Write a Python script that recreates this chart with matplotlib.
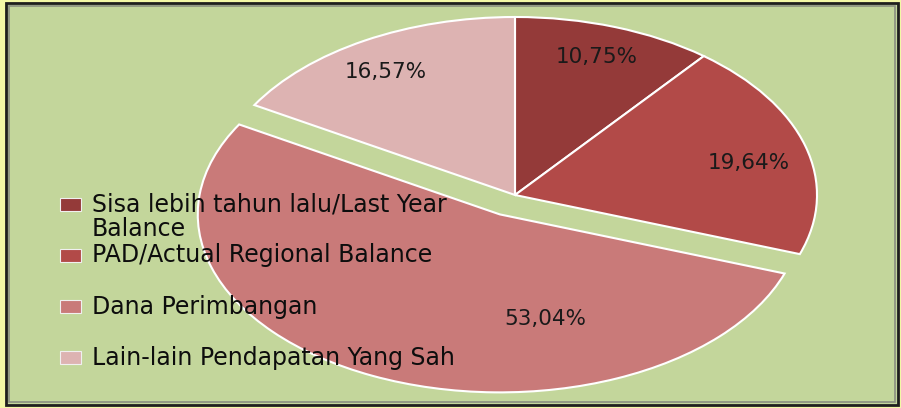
import matplotlib.pyplot as plt
from matplotlib.patches import Rectangle

labels = ["Sisa lebih tahun lalu/Last Year\nBalance",
          "PAD/Actual Regional Balance",
          "Dana Perimbangan",
          "Lain-lain Pendapatan Yang Sah"]
shares = [10.75, 19.64, 53.04, 16.57]
pct_text = ["10,75%", "19,64%", "53,04%", "16,57%"]
colors = ["#943a39", "#b24a48", "#c97a79", "#ddb3b2"]
explode = [0, 0, 0.12, 0]

# where the percentage labels sit (axes data units)
label_pos = [(0.272, 0.775), (0.775, 0.180), (0.099, -0.697), (-0.427, 0.691)]

W, H = 901, 408
fig = plt.figure(figsize=(W / 100, H / 100), dpi=100)
fig.patch.set_facecolor("#f3f8a6")

# green plot area with dark border
fig.patches.append(Rectangle((6 / W, 3 / H), 892 / W, 402 / H, transform=fig.transFigure,
                             facecolor="#c3d69b", edgecolor="#1e1e1e", lw=2, zorder=-2))
fig.patches.append(Rectangle((9 / W, 6 / H), 886 / W, 396 / H, transform=fig.transFigure,
                             facecolor="none", edgecolor="#8a8f80", lw=1.2, zorder=-1))

ax = fig.add_axes([0, 0, 1, 1])
ax.set_zorder(1)
ax.patch.set_visible(False)

wedges, _ = ax.pie(shares, colors=colors, startangle=90, counterclock=False,
                   explode=explode,
                   wedgeprops=dict(edgecolor="white", linewidth=1.5))
for p, (x, y) in zip(pct_text, label_pos):
    ax.text(x, y, p, ha="center", va="center", fontsize=15.5,
            family="DejaVu Sans", color="#1a1a1a")

# stretched (elliptical) pie like the original
cx, cy, rx, ry = 515, 195, 302, 178
ax.set_aspect("auto")
ax.set_xlim(-cx / rx, (W - cx) / rx)
ax.set_ylim(-(H - cy) / ry, cy / ry)
ax.axis("off")

# legend drawn by hand on the left
for i, (lab, col) in enumerate(zip(labels, colors)):
    yc = 204 + i * 51.3
    fig.patches.append(Rectangle((60 / W, 1 - (yc + 6.5) / H), 21 / W, 13 / H,
                                 transform=fig.transFigure, facecolor=col,
                                 edgecolor="#f0f0f0", lw=0.8, zorder=5))
    fig.text(92 / W, 1 - (yc - 12) / H, lab, ha="left", va="top", fontsize=17,
             family="DejaVu Sans", color="#0d0d0d", linespacing=1.05, zorder=6)

fig.savefig("out.png", dpi=100, facecolor=fig.get_facecolor())
